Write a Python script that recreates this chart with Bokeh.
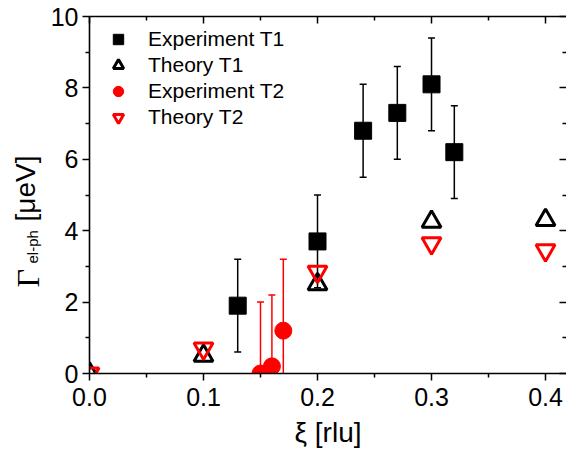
import math
from bokeh.plotting import figure
from bokeh.layouts import row
from bokeh.models import (ColumnDataSource, Range1d, LinearAxis, FixedTicker,
                          NumeralTickFormatter, Legend, LegendItem, Label)
from bokeh.embed import file_html
from bokeh.resources import INLINE

# ---------------- data ----------------
exp_t1_x = [0.13, 0.20, 0.24, 0.27, 0.30, 0.32]
exp_t1_y = [1.9, 3.7, 6.8, 7.3, 8.1, 6.2]
exp_t1_err = [1.3, 1.3, 1.3, 1.3, 1.3, 1.3]

theo_t1_x = [0.0, 0.1, 0.2, 0.3, 0.4]
theo_t1_y = [0.0, 0.5, 2.5, 4.25, 4.3]

exp_t2_x = [0.15, 0.16, 0.17]
exp_t2_y = [0.0, 0.2, 1.2]
exp_t2_err = [2.0, 2.0, 2.0]

theo_t2_x = [0.0, 0.1, 0.2, 0.3, 0.4]
theo_t2_y = [0.0, 0.7, 2.85, 3.65, 3.45]

x_ticks = [0.0, 0.1, 0.2, 0.3, 0.4]
x_minor = [0.05, 0.15, 0.25, 0.35]
y_ticks = [0, 2, 4, 6, 8, 10]
y_minor = [1, 3, 5, 7, 9]

FONT = "Liberation Sans"
RED = "#ff0000"
TITLE_W = 45          # width of the strip that carries the y-axis title
W, H = 566, 451

def with_err(xs, ys, es):
    return ColumnDataSource(dict(x=xs, y=ys,
                                 lo=[y - e for y, e in zip(ys, es)],
                                 hi=[y + e for y, e in zip(ys, es)]))

src_e1 = with_err(exp_t1_x, exp_t1_y, exp_t1_err)
src_e2 = with_err(exp_t2_x, exp_t2_y, exp_t2_err)
src_t1 = ColumnDataSource(dict(x=theo_t1_x, y=theo_t1_y))
src_t2 = ColumnDataSource(dict(x=theo_t2_x, y=theo_t2_y))

p = figure(width=W - TITLE_W, height=H, output_backend="svg", toolbar_location=None,
           x_range=Range1d(0, 0.4184), y_range=Range1d(0, 10),
           x_axis_location=None, y_axis_location=None,
           min_border_left=89 - TITLE_W, min_border_right=0, min_border_top=16,
           min_border_bottom=78)
p.outline_line_color = None
p.xgrid.visible = False
p.ygrid.visible = False

def style_axis(ax, ticks, minor, shown):
    ax.ticker = FixedTicker(ticks=ticks, minor_ticks=minor)
    ax.axis_line_color = "black"
    ax.axis_line_width = 1.6
    ax.major_tick_line_width = 1.5
    ax.minor_tick_line_width = 1.5
    ax.major_tick_line_color = "black"
    ax.minor_tick_line_color = "black"
    if shown:
        ax.major_tick_out = 7
        ax.major_tick_in = 0
        ax.minor_tick_out = 4
        ax.minor_tick_in = 0
        ax.major_label_text_font = FONT
        ax.major_label_text_font_size = "25px"
        ax.major_label_text_color = "black"
    else:
        ax.major_tick_out = 0
        ax.major_tick_in = 7
        ax.minor_tick_out = 0
        ax.minor_tick_in = 4
        ax.major_label_text_font_size = "0px"
        ax.major_label_standoff = 0
        ax.major_label_overrides = {t: "" for t in ticks}

xb = LinearAxis()
style_axis(xb, x_ticks, x_minor, True)
xb.formatter = NumeralTickFormatter(format="0.0")
xb.major_label_standoff = 7
xb.axis_label = "ξ [rlu]"
xb.axis_label_text_font = FONT
xb.axis_label_text_font_style = "normal"
xb.axis_label_text_font_size = "28px"
xb.axis_label_text_color = "black"
xb.axis_label_standoff = 8
p.add_layout(xb, "below")

xt = LinearAxis()
style_axis(xt, x_ticks, x_minor, False)
p.add_layout(xt, "above")

yl = LinearAxis()
style_axis(yl, y_ticks, y_minor, True)
yl.major_label_standoff = 4
p.add_layout(yl, "left")

yr = LinearAxis()
style_axis(yr, y_ticks, y_minor, False)
yr.axis_line_color = None
p.add_layout(yr, "right")

# ---------------- glyphs ----------------
p.segment(x0="x", y0="lo", x1="x", y1="hi", source=src_e1, line_color="black", line_width=1.5)
p.scatter(x="x", y="hi", source=src_e1, marker="dash", size=7, line_color="black", line_width=1.5)
p.scatter(x="x", y="lo", source=src_e1, marker="dash", size=7, line_color="black", line_width=1.5)
r_e1 = p.scatter(x="x", y="y", source=src_e1, marker="square", size=17,
                 fill_color="black", line_color="black", line_width=1)

r_t1 = p.scatter(x="x", y="y", source=src_t1, marker="triangle", size=19,
                 fill_color=None, line_color="black", line_width=3)

p.segment(x0="x", y0="lo", x1="x", y1="hi", source=src_e2, line_color=RED, line_width=1.5)
p.scatter(x="x", y="hi", source=src_e2, marker="dash", size=7, line_color=RED, line_width=1.5)
p.scatter(x="x", y="lo", source=src_e2, marker="dash", size=7, line_color=RED, line_width=1.5)
r_e2 = p.scatter(x="x", y="y", source=src_e2, marker="circle", size=17,
                 fill_color=RED, line_color=RED, line_width=1)

r_t2 = p.scatter(x="x", y="y", source=src_t2, marker="inverted_triangle", size=19,
                 fill_color=None, line_color=RED, line_width=3)

legend = Legend(items=[LegendItem(label="Experiment T1", renderers=[r_e1]),
                       LegendItem(label="Theory T1", renderers=[r_t1]),
                       LegendItem(label="Experiment T2", renderers=[r_e2]),
                       LegendItem(label="Theory T2", renderers=[r_t2])],
                location=(16, 243), glyph_width=26, glyph_height=26, spacing=0,
                label_standoff=17, padding=0, margin=0,
                label_text_font=FONT, label_text_font_size="21px",
                label_text_color="black",
                border_line_color=None, background_fill_alpha=0)
p.add_layout(legend)

# ---------------- y-axis title strip (Γ with subscript) ----------------
# its frame is aligned with the main frame (top 16, bottom 373); screen units
# are measured from the strip's frame left / bottom edge
t = figure(width=TITLE_W, height=H, output_backend="svg", toolbar_location=None,
           x_range=Range1d(0, 1), y_range=Range1d(0, 1),
           x_axis_location=None, y_axis_location=None,
           min_border=0)
t.outline_line_color = None
t.xgrid.visible = False
t.ygrid.visible = False

half_pi = math.pi / 2
common = dict(angle=half_pi, x_units="screen", y_units="screen",
              text_align="left", text_baseline="alphabetic", text_color="black")
t.add_layout(Label(x=27, y=86, text="Γ", text_font="Liberation Serif",
                   text_font_size="32px", **common))
t.add_layout(Label(x=32, y=110, text="el-ph", text_font=FONT,
                   text_font_size="15px", **common))
t.add_layout(Label(x=25, y=152, text="[μeV]", text_font=FONT,
                   text_font_size="28px", **common))

layout = row(t, p, spacing=0)
open("out.html", "w").write(file_html(layout, INLINE))
